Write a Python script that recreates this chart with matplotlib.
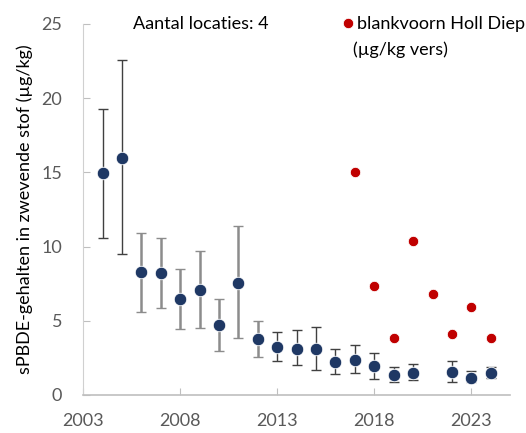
import matplotlib
matplotlib.use("Agg")
import matplotlib.pyplot as plt
import numpy as np

plt.rcParams['font.family'] = ['Lato', 'DejaVu Sans']

years = [2004, 2005, 2006, 2007, 2008, 2009, 2010, 2011, 2012, 2013, 2014,
         2015, 2016, 2017, 2018, 2019, 2020, 2022, 2023, 2024]
means = [14.95, 16.0, 8.27, 8.24, 6.45, 7.08, 4.72, 7.57, 3.75, 3.23, 3.12,
         3.08, 2.25, 2.38, 1.93, 1.37, 1.46, 1.55, 1.12, 1.46]
upper = [19.3, 22.6, 10.9, 10.6, 8.49, 9.72, 6.49, 11.39, 5.0, 4.27, 4.36,
         4.6, 3.1, 3.35, 2.83, 1.86, 2.07, 2.27, 1.64, 1.86]
lower = [10.6, 9.5, 5.6, 5.84, 4.47, 4.54, 2.96, 3.82, 2.58, 2.31, 2.0,
         1.68, 1.41, 1.48, 1.08, 0.88, 0.99, 0.9, 0.85, 1.12]

red_years = [2017, 2018, 2019, 2020, 2021, 2022, 2023, 2024]
red_vals = [15.0, 7.32, 3.82, 10.4, 6.8, 4.13, 5.93, 3.84]

ylabel = "sPBDE-gehalten in zwevende stof (µg/kg)"
legend_label = "blankvoorn Holl Diep"
legend_label2 = "(µg/kg vers)"
annot = "Aantal locaties: 4"
xticks = [2003, 2008, 2013, 2018, 2023]
yticks = [0, 5, 10, 15, 20, 25]

fig = plt.figure(figsize=(5.26, 4.33), dpi=100)
ax = fig.add_axes([0.158, 0.0878, 0.812, 0.8568])

x = np.array(years)
m = np.array(means)
yerr = np.vstack([m - np.array(lower), np.array(upper) - m])
gray = (x >= 2006) & (x <= 2012)

ax.errorbar(x[~gray], m[~gray], yerr=yerr[:, ~gray], fmt='none', ecolor='#404040',
            elinewidth=1.0, capsize=3.5, capthick=1.0, zorder=2)
ax.errorbar(x[gray], m[gray], yerr=yerr[:, gray], fmt='none', ecolor='#8c8c8c',
            elinewidth=1.8, capsize=3.5, capthick=1.0, zorder=2)
ax.plot(x, m, 'o', color='#1F3864', markersize=9, markeredgecolor='white',
        markeredgewidth=0.6, linestyle='none', zorder=3)
ax.plot(red_years, red_vals, 'o', color='#C00000', markersize=7.5,
        markeredgecolor='white', markeredgewidth=0.6, linestyle='none',
        zorder=3, label=legend_label)

ax.set_xlim(2003, 2025)
ax.set_ylim(0, 25)
ax.set_xticks(xticks)
ax.set_yticks(yticks)
ax.tick_params(axis='both', direction='in', length=5, color='#bfbfbf',
               labelcolor='#595959', labelsize=13)
ax.tick_params(axis='x', pad=13)
ax.tick_params(axis='y', pad=15)
for s in ['top', 'right']:
    ax.spines[s].set_visible(False)
ax.spines['left'].set_color('#d0d0d0')
ax.spines['bottom'].set_color('#bfbfbf')
ax.spines['bottom'].set_linewidth(1.2)

ax.set_ylabel(ylabel, fontsize=13, color='#000000', labelpad=6)

ax.text(0.117, 1.0, annot, transform=ax.transAxes, fontsize=13,
        va='center', ha='left', color='#000000')
leg = ax.legend(loc='center left', bbox_to_anchor=(0.6, 1.0), frameon=False,
                fontsize=13, handletextpad=0.0, borderpad=0, borderaxespad=0,
                handlelength=1.0, markerscale=1.0)
ax.text(0.632, 0.93, legend_label2, transform=ax.transAxes, fontsize=13,
        va='center', ha='left', color='#000000')

fig.savefig("out.png", dpi=100)
